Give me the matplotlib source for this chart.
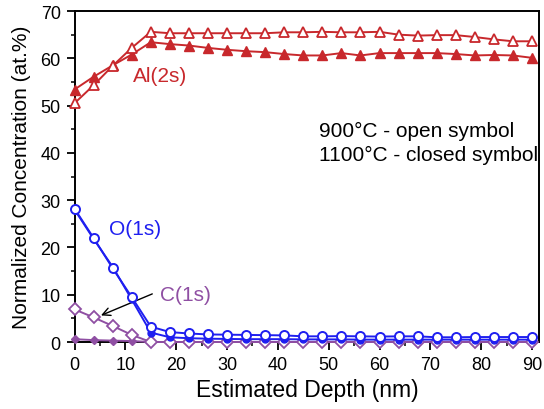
import matplotlib
matplotlib.use("Agg")
import matplotlib.pyplot as plt
import numpy as np

plt.rcParams['font.family'] = ['Liberation Sans', 'DejaVu Sans']

depth = [0, 3.75, 7.5, 11.25, 15, 18.75, 22.5, 26.25, 30, 33.75, 37.5, 41.25, 45,
         48.75, 52.5, 56.25, 60, 63.75, 67.5, 71.25, 75, 78.75, 82.5, 86.25, 90]

al_900 = [50.5, 54.3, 58.4, 62.2, 65.6, 65.3, 65.3, 65.3, 65.3, 65.3, 65.3, 65.5, 65.5,
          65.6, 65.5, 65.5, 65.6, 65.0, 64.8, 64.9, 64.9, 64.5, 64.0, 63.6, 63.6]
al_1100 = [53.4, 56.1, 58.5, 60.8, 63.4, 63.0, 62.7, 62.2, 61.8, 61.5, 61.3, 60.9, 60.6,
           60.6, 61.1, 60.6, 61.1, 61.1, 61.1, 61.1, 60.9, 60.6, 60.7, 60.6, 60.1]

o_900 = [28.2, 22.0, 15.6, 9.5, 3.25, 2.1, 1.8, 1.6, 1.55, 1.5, 1.45, 1.4, 1.2,
         1.2, 1.25, 1.2, 1.15, 1.2, 1.2, 1.0, 1.0, 1.05, 1.05, 1.05, 1.05]
o_1100 = [28.0, 21.8, 15.9, 9.0, 2.0, 1.0, 0.8, 0.7, 0.65, 0.6, 0.6, 0.6, 0.55,
          0.55, 0.55, 0.5, 0.5, 0.5, 0.5, 0.5, 0.5, 0.5, 0.5, 0.5, 0.5]

c_900 = [6.9, 5.2, 3.4, 1.5, 0.0, 0.0, 0.0, 0.0, 0.0, 0.0, 0.0, 0.0, 0.0,
         0.0, 0.0, 0.0, 0.0, 0.0, 0.0, 0.0, 0.0, 0.0, 0.0, 0.0, 0.0]
c_1100 = [0.6, 0.4, 0.3, 0.2, 0.0, 0.0, 0.0, 0.0, 0.0, 0.0, 0.0, 0.0, 0.0,
          0.0, 0.0, 0.0, 0.0, 0.0, 0.0, 0.0, 0.0, 0.0, 0.0, 0.0, 0.0]

RED = '#c8282c'
BLUE = '#1f1ff0'
PURPLE = '#8f4fa3'

fig = plt.figure(figsize=(5.44, 4.10), dpi=100)
ax = fig.add_axes([0.137, 0.1634, 0.854, 0.8073])

lw = 1.4
# closed (1100 C)
ax.plot(depth, c_1100, '-', color=PURPLE, lw=lw, marker='D', ms=4, mfc=PURPLE,
        mec=PURPLE, clip_on=False, zorder=3)
ax.plot(depth, c_900, '-', color=PURPLE, lw=lw, marker='D', ms=6, mfc='white',
        mec=PURPLE, mew=1.3, clip_on=False, zorder=4)
ax.plot(depth, o_1100, '-', color=BLUE, lw=lw, marker='o', ms=5, mfc=BLUE,
        mec=BLUE, clip_on=False, zorder=5)
ax.plot(depth, o_900, '-', color=BLUE, lw=lw, marker='o', ms=6.5, mfc='white',
        mec=BLUE, mew=1.4, clip_on=False, zorder=6)
ax.plot(depth, al_1100, '-', color=RED, lw=lw, marker='^', ms=7, mfc=RED,
        mec=RED, clip_on=False, zorder=5)
ax.plot(depth, al_900, '-', color=RED, lw=lw, marker='^', ms=7.5, mfc='white',
        mec=RED, mew=1.3, clip_on=False, zorder=6)

ax.set_xlim(0, 91.4)
ax.set_ylim(0, 70)
ax.set_xticks(np.arange(0, 91, 10))
ax.set_xticks(np.arange(0, 91, 5), minor=True)
ax.set_yticks(np.arange(0, 71, 10))
ax.set_yticks(np.arange(0, 71, 5), minor=True)
ax.tick_params(which='major', direction='out', length=6, width=1.3, labelsize=13,
               top=False, right=False, pad=4)
ax.tick_params(which='minor', direction='out', length=3, width=1.1, top=False, right=False)
for s in ax.spines.values():
    s.set_linewidth(1.4)

ax.set_xlabel('Estimated Depth (nm)', fontsize=16.5, labelpad=4)
ax.set_ylabel('Normalized Concentration (at.%)', fontsize=15, labelpad=7)

ax.text(11.4, 55.2, 'Al(2s)', color=RED, fontsize=15, va='baseline', ha='left')
ax.text(6.7, 22.8, 'O(1s)', color=BLUE, fontsize=15, va='baseline', ha='left')
ax.text(16.9, 8.9, 'C(1s)', color=PURPLE, fontsize=15, va='baseline', ha='left')
ax.annotate('', xy=(4.7, 5.4), xytext=(15.8, 10.4),
            arrowprops=dict(arrowstyle='->', color='black', lw=1.0, mutation_scale=14))

ax.text(48.0, 43.6, '900°C - open symbol', fontsize=15, va='baseline', ha='left')
ax.text(48.0, 38.5, '1100°C - closed symbol', fontsize=15, va='baseline', ha='left')

fig.savefig('out.png', dpi=100)
